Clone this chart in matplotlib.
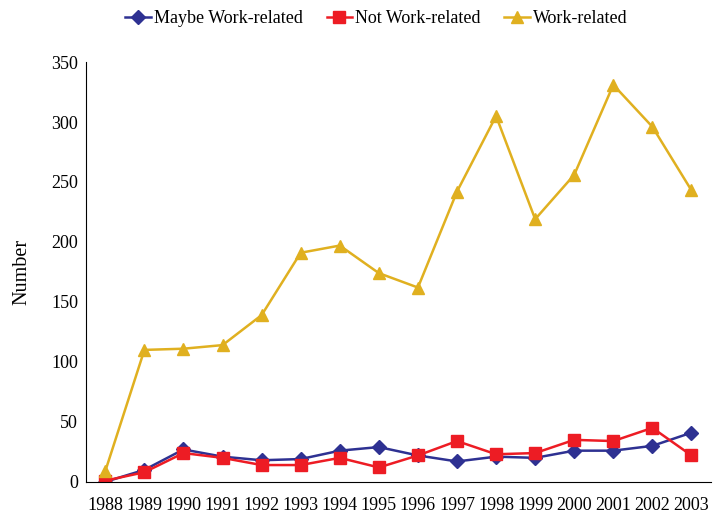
import matplotlib
matplotlib.use("Agg")
import matplotlib.pyplot as plt

years = [1988, 1989, 1990, 1991, 1992, 1993, 1994, 1995,
         1996, 1997, 1998, 1999, 2000, 2001, 2002, 2003]
maybe = [0, 10, 27, 21, 18, 19, 26, 29, 22, 17, 21, 20, 26, 26, 30, 41]
not_work = [1, 8, 24, 20, 14, 14, 20, 12, 22, 34, 23, 24, 35, 34, 45, 22]
work = [9, 110, 111, 114, 139, 191, 197, 174, 162, 242, 305, 219, 256, 331, 296, 243]

plt.rcParams['font.family'] = ['Liberation Serif', 'DejaVu Serif']

fig = plt.figure(figsize=(7.27, 5.17), dpi=100)
ax = fig.add_axes([0.118, 0.068, 0.86, 0.812])

ax.plot(years, maybe, color="#2E3192", marker="D", markersize=7, lw=1.8, label="Maybe Work-related")
ax.plot(years, not_work, color="#ED1C24", marker="s", markersize=8, lw=1.8, label="Not Work-related")
ax.plot(years, work, color="#E0B020", marker="^", markersize=9, lw=1.8, label="Work-related")

ax.set_xlim(1987.5, 2003.5)
ax.set_ylim(0, 350)
ax.set_yticks(range(0, 351, 50))
ax.set_xticks(years)
ax.tick_params(length=0, labelsize=13, pad=5.5)
ax.tick_params(axis='x', pad=11)
ax.spines['top'].set_visible(False)
ax.spines['right'].set_visible(False)
ax.set_ylabel("Number", fontsize=14.5, labelpad=14)

fig.legend(loc="upper center", bbox_to_anchor=(0.518, 1.012), ncol=3, frameon=False,
           fontsize=13, handlelength=1.4, columnspacing=1.3, handletextpad=0.2)

plt.savefig("out.png", dpi=100)
